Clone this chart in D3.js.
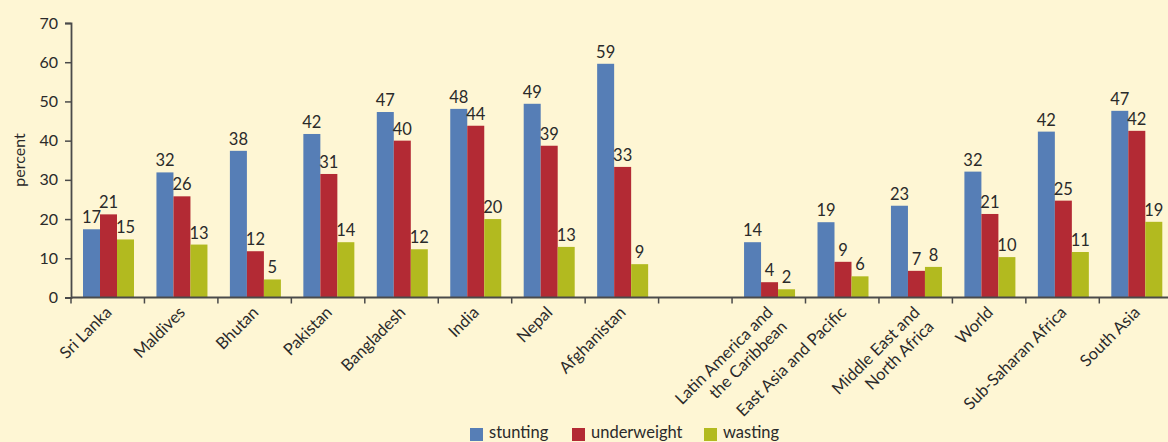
<!DOCTYPE html>
<html>
<head>
<meta charset="utf-8">
<script src="https://cdn.jsdelivr.net/npm/d3@7"></script>
<style>
  html, body { margin: 0; padding: 0; background: #FEF6D4; }
  svg { display: block; }
  text { font-family: Lato, "Open Sans", sans-serif; fill: #2a2a2a; }
</style>
</head>
<body>
<svg id="chart" width="1168" height="442"></svg>
<script>
// ---- data ----
const categories = ["Sri Lanka", "Maldives", "Bhutan", "Pakistan", "Bangladesh", "India", "Nepal", "Afghanistan", "",
  "Latin America and\nthe Caribbean", "East Asia and Pacific", "Middle East and\nNorth Africa", "World", "Sub-Saharan Africa", "South Asia"];
const seriesNames = ["stunting", "underweight", "wasting"];
const stunting    = [17.4, 31.9, 37.4, 41.7, 47.3, 48.1, 49.4, 59.6, null, 14.1, 19.2, 23.4, 32.1, 42.3, 47.6];
const underweight = [21.2, 25.8, 11.8, 31.5, 40.0, 43.8, 38.7, 33.3, null, 3.9, 9.1, 6.8, 21.3, 24.7, 42.5];
const wasting     = [14.8, 13.5, 4.6, 14.1, 12.3, 20.0, 12.9, 8.5, null, 2.1, 5.4, 7.8, 10.3, 11.6, 19.3];
const stuntingLabels    = [17, 32, 38, 42, 47, 48, 49, 59, null, 14, 19, 23, 32, 42, 47];
const underweightLabels = [21, 26, 12, 31, 40, 44, 39, 33, null, 4, 9, 7, 21, 25, 42];
const wastingLabels     = [15, 13, 5, 14, 12, 20, 13, 9, null, 2, 6, 8, 10, 11, 19];
const yTicks = [0, 10, 20, 30, 40, 50, 60, 70];
const yLabel = "percent";
const colors = ["#567EB6", "#B32A34", "#B2BA1F"];

const values = [stunting, underweight, wasting];
const labels = [stuntingLabels, underweightLabels, wastingLabels];

// ---- layout ----
const svg = d3.select("#chart");
const left = 71, bandW = 73.45, baseY = 297.5, topY = 23;
const x = d3.scaleBand().domain(d3.range(categories.length))
  .range([left, left + bandW * categories.length]).padding(0);
const x1 = d3.scaleBand().domain(seriesNames).range([12, 63]).padding(0);
const y = d3.scaleLinear().domain([0, 70]).range([baseY, topY]);

// bars
categories.forEach((c, i) => {
  seriesNames.forEach((s, k) => {
    const v = values[k][i];
    if (v == null) return;
    svg.append("rect")
      .attr("x", x(i) + x1(s))
      .attr("y", y(v))
      .attr("width", x1.bandwidth())
      .attr("height", y(0) - y(v))
      .attr("fill", colors[k]);
    svg.append("text")
      .attr("x", x(i) + x1(s) + x1.bandwidth() / 2)
      .attr("y", y(v) - 6)
      .attr("text-anchor", "middle")
      .style("font-size", "16.5px")
      .text(labels[k][i]);
  });
});

// y axis
const yAxis = d3.axisLeft(y).tickValues(yTicks).tickSize(6).tickPadding(7);
const gy = svg.append("g").attr("transform", `translate(${left},0)`).call(yAxis);
gy.select(".domain").attr("stroke", "#4a4a4a").attr("stroke-width", 1.8);
gy.selectAll(".tick line").attr("stroke", "#4a4a4a").attr("stroke-width", 1.5);
gy.selectAll(".tick text").style("font-size", "16px").style("font-family", "Lato, sans-serif").attr("fill", "#2a2a2a");

// x axis line
svg.append("line").attr("x1", left).attr("x2", 1168).attr("y1", baseY).attr("y2", baseY)
  .attr("stroke", "#4a4a4a").attr("stroke-width", 2);
// x ticks at band boundaries
d3.range(categories.length + 1).forEach(i => {
  const xx = i < categories.length ? x(i) : x.range()[1];
  svg.append("line").attr("x1", xx).attr("x2", xx).attr("y1", baseY).attr("y2", baseY + 6)
    .attr("stroke", "#4a4a4a").attr("stroke-width", 1.5);
});

// x labels
categories.forEach((c, i) => {
  if (!c) return;
  const cx = x(i) + x.bandwidth() / 2 + 5;
  const t = svg.append("text")
    .attr("transform", `translate(${cx},${baseY + 16}) rotate(-45)`)
    .attr("text-anchor", "end")
    .style("font-size", "16.5px");
  c.split("\n").forEach((line, j) => {
    t.append("tspan").attr("x", 0).attr("y", j * 20).text(line);
  });
});

// y label
svg.append("text")
  .attr("transform", "translate(25,160) rotate(-90)")
  .attr("text-anchor", "middle")
  .style("font-size", "16px")
  .text(yLabel);

// legend
const legX = [470, 572, 704];
seriesNames.forEach((s, k) => {
  svg.append("rect").attr("x", legX[k]).attr("y", 428).attr("width", 13).attr("height", 13).attr("fill", colors[k]);
  svg.append("text").attr("x", legX[k] + 19).attr("y", 438).style("font-size", "16.5px").text(s);
});
</script>
</body>
</html>
